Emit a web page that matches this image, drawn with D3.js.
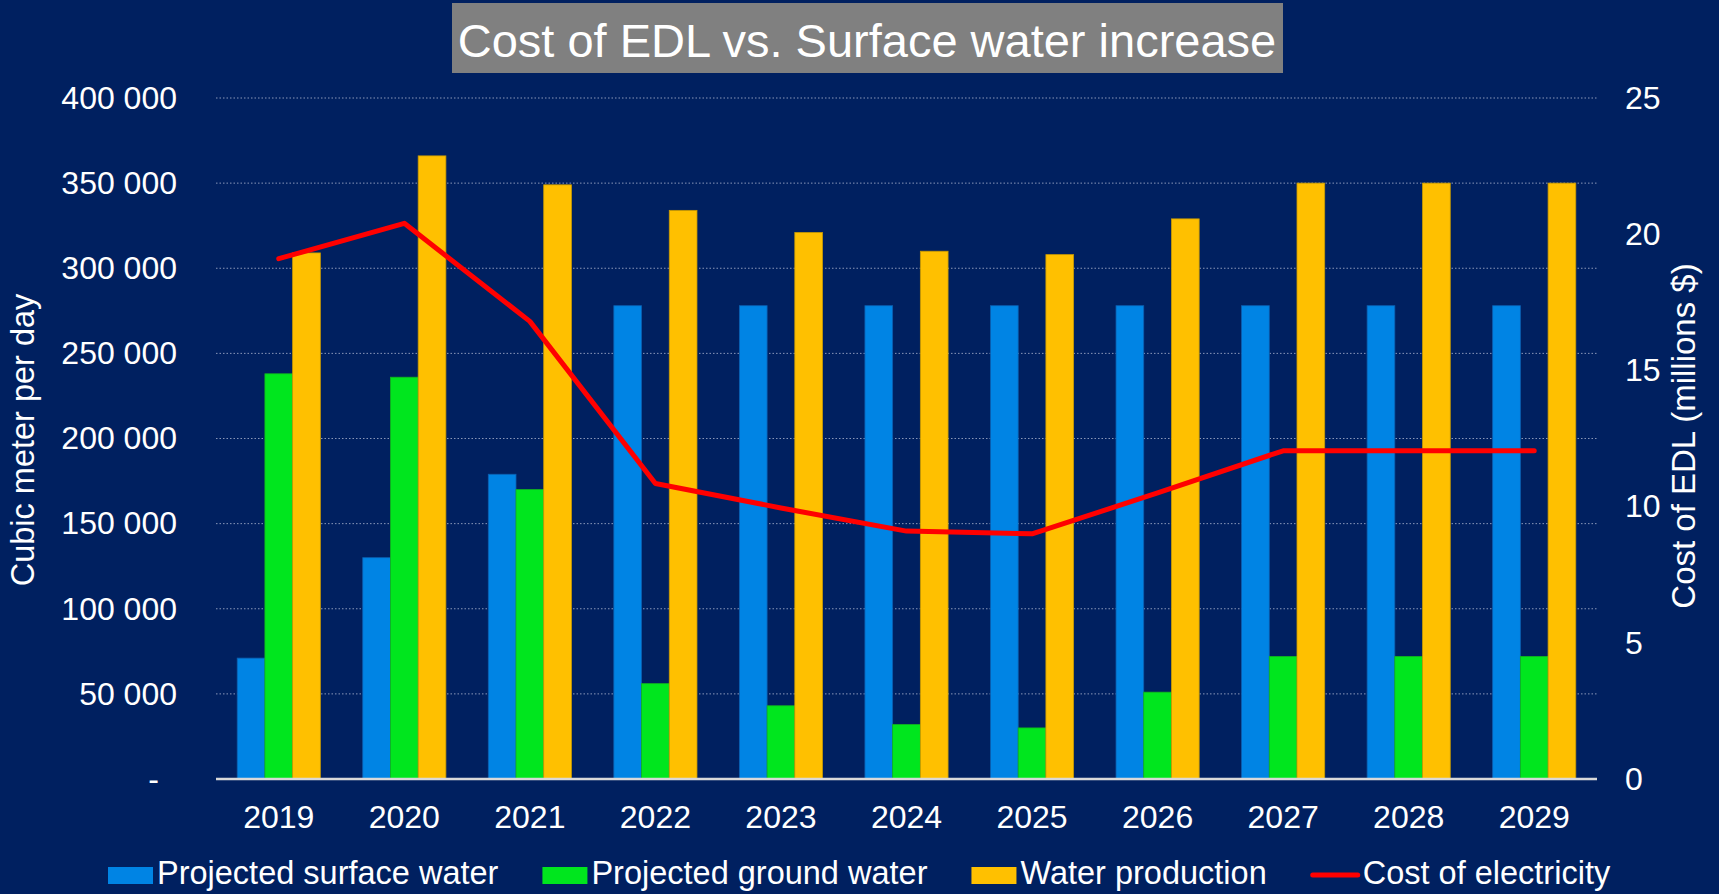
<!DOCTYPE html>
<html>
<head>
<meta charset="utf-8">
<script src="https://cdn.jsdelivr.net/npm/d3@7"></script>
<style>
  body { margin: 0; background: #002060; overflow: hidden; }
  svg text { font-family: "Liberation Sans", Arial, sans-serif; fill: #fff; }
  .axis text { font-size: 32px; }
  .axis path, .axis line { display: none; }
</style>
</head>
<body>
<svg id="chart"></svg>
<script>
const years = ['2019', '2020', '2021', '2022', '2023', '2024', '2025', '2026', '2027', '2028', '2029'];
const surfaceWater = [71000, 130000, 179000, 278000, 278000, 278000, 278000, 278000, 278000, 278000, 278000];
const groundWater = [238000, 236000, 170000, 56000, 43000, 32000, 30000, 51000, 72000, 72000, 72000];
const waterProduction = [309000, 366000, 349000, 334000, 321000, 310000, 308000, 329000, 350000, 350000, 350000];
const electricityCost = [19.1, 20.4, 16.8, 10.85, 9.95, 9.1, 9.0, 10.5, 12.05, 12.05, 12.05];
const barSeries = ['Projected surface water', 'Projected ground water', 'Water production'];
const lineSeries = 'Cost of electricity';
const leftTicks = [0, 50000, 100000, 150000, 200000, 250000, 300000, 350000, 400000];
const rightTicks = [0, 5, 10, 15, 20, 25];

class ComboChart {
    constructor(_config, _data) {
        this.config = {
            parentElement: _config.parentElement,
            containerWidth: _config.containerWidth || 1719,
            containerHeight: _config.containerHeight || 894,
            margin: { top: 98, bottom: 115, right: 122, left: 216 }
        }
        this.data = _data;
        this.initVis();
    }

    initVis() {
        let vis = this;

        vis.width = vis.config.containerWidth - vis.config.margin.left - vis.config.margin.right;
        vis.height = vis.config.containerHeight - vis.config.margin.top - vis.config.margin.bottom;

        vis.colors = ['#0084e4', '#00e61e', '#ffc000'];
        vis.strokes = ['#0b5fb0', '#12b51e', '#c99a00'];

        vis.x0 = d3.scaleBand()
            .domain(years)
            .range([0, vis.width]);

        vis.x1 = d3.scaleBand()
            .domain(barSeries)
            .range([0, vis.x0.bandwidth()])
            .paddingInner(0)
            .paddingOuter(0.765);

        vis.yLeft = d3.scaleLinear()
            .domain([0, 400000])
            .range([vis.height, 0]);

        vis.yRight = d3.scaleLinear()
            .domain([0, 25])
            .range([vis.height, 0]);

        const fmt = d => d === 0 ? '-' : d3.format(',')(d).replace(/,/g, ' ');

        vis.svg = d3.select(vis.config.parentElement)
            .attr('width', vis.config.containerWidth)
            .attr('height', vis.config.containerHeight);

        vis.svg.append('rect')
            .attr('width', vis.config.containerWidth)
            .attr('height', vis.config.containerHeight)
            .attr('fill', '#002060');

        // Title box
        vis.svg.append('rect')
            .attr('x', 452).attr('y', 3)
            .attr('width', 831).attr('height', 70)
            .attr('fill', '#808080');
        vis.svg.append('text')
            .attr('x', 867).attr('y', 57)
            .attr('text-anchor', 'middle')
            .attr('font-size', 47)
            .text('Cost of EDL vs. Surface water increase');

        vis.chart = vis.svg.append('g')
            .attr('transform', `translate(${vis.config.margin.left},${vis.config.margin.top})`);

        // Gridlines
        vis.chart.append('g')
            .selectAll('line')
            .data(leftTicks.filter(d => d > 0))
            .enter()
          .append('line')
            .attr('x1', 0)
            .attr('x2', vis.width)
            .attr('y1', d => vis.yLeft(d))
            .attr('y2', d => vis.yLeft(d))
            .attr('stroke', '#8a97b8')
            .attr('stroke-width', 1)
            .attr('stroke-dasharray', '1.5,2');

        vis.yAxisG = vis.chart.append('g')
            .attr('class', 'axis y-axis')
            .call(d3.axisLeft(vis.yLeft).tickValues(leftTicks).tickSize(0).tickPadding(39).tickFormat(fmt));
        vis.yAxisG.selectAll('.tick text').filter(d => d === 0).attr('x', -57);

        vis.yAxisRG = vis.chart.append('g')
            .attr('class', 'axis y-axis-right')
            .attr('transform', `translate(${vis.width},0)`)
            .call(d3.axisRight(vis.yRight).tickValues(rightTicks).tickSize(0).tickPadding(28));

        vis.xAxisG = vis.chart.append('g')
            .attr('class', 'axis x-axis')
            .attr('transform', `translate(0,${vis.height})`)
            .call(d3.axisBottom(vis.x0).tickSize(0).tickPadding(26));

        // Bars
        vis.groups = vis.chart.selectAll('.year-group')
            .data(vis.data)
            .enter()
          .append('g')
            .attr('class', 'year-group')
            .attr('transform', d => `translate(${vis.x0(d.year)},0)`);

        vis.groups.selectAll('rect')
            .data(d => barSeries.map((s, i) => ({ key: s, i: i, value: d.values[i] })))
            .enter()
          .append('rect')
            .attr('x', d => vis.x1(d.key))
            .attr('width', vis.x1.bandwidth())
            .attr('y', d => vis.yLeft(d.value))
            .attr('height', d => vis.height - vis.yLeft(d.value))
            .attr('fill', d => vis.colors[d.i])
            .attr('stroke', d => vis.strokes[d.i])
            .attr('stroke-width', 0.8);

        // Baseline
        vis.chart.append('line')
            .attr('x1', 0).attr('x2', vis.width)
            .attr('y1', vis.height).attr('y2', vis.height)
            .attr('stroke', '#d9d9d9')
            .attr('stroke-width', 2.5);

        // Cost line
        vis.line = d3.line()
            .x(d => vis.x0(d.year) + vis.x0.bandwidth() / 2)
            .y(d => vis.yRight(d.cost));

        vis.chart.append('path')
            .datum(vis.data)
            .attr('fill', 'none')
            .attr('stroke', '#ff0000')
            .attr('stroke-width', 5)
            .attr('stroke-linecap', 'round')
            .attr('stroke-linejoin', 'round')
            .attr('d', vis.line);

        // Axis titles
        vis.svg.append('text')
            .attr('transform', 'translate(34,440) rotate(-90)')
            .attr('text-anchor', 'middle')
            .attr('font-size', 32.5)
            .text('Cubic meter per day');

        vis.svg.append('text')
            .attr('transform', 'translate(1695,436) rotate(-90)')
            .attr('text-anchor', 'middle')
            .attr('font-size', 33)
            .text('Cost of EDL (millions $)');

        // Legend
        let lx = 108;
        const legendY = 884;
        barSeries.concat([lineSeries]).forEach((name, i) => {
            if (i < 3) {
                vis.svg.append('rect')
                    .attr('x', lx).attr('y', legendY - 17)
                    .attr('width', 45).attr('height', 17)
                    .attr('fill', vis.colors[i]);
                lx += 49;
            } else {
                vis.svg.append('line')
                    .attr('x1', lx + 2).attr('x2', lx + 47)
                    .attr('y1', legendY - 9).attr('y2', legendY - 9)
                    .attr('stroke', '#ff0000')
                    .attr('stroke-width', 5)
                    .attr('stroke-linecap', 'round');
                lx += 52;
            }
            const t = vis.svg.append('text')
                .attr('x', lx).attr('y', legendY)
                .attr('font-size', 32.5)
                .text(name);
            lx += t.node().getComputedTextLength() + 44;
        });
    }
}

const chartData = years.map((y, i) => ({
    year: y,
    values: [surfaceWater[i], groundWater[i], waterProduction[i]],
    cost: electricityCost[i]
}));

new ComboChart({ parentElement: '#chart' }, chartData);
</script>
</body>
</html>
